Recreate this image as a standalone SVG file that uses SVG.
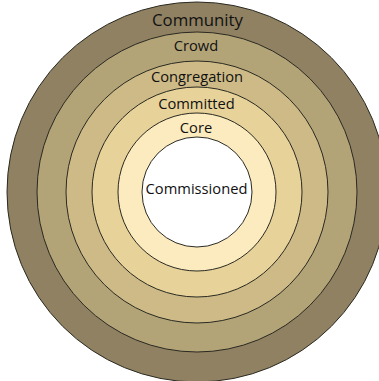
<svg xmlns="http://www.w3.org/2000/svg" width="379" height="381" viewBox="0 0 379 381">
<style>
.ring{stroke:#2a2a22;stroke-width:1}
.lbl{font-family:"Open Sans","Liberation Sans",sans-serif;font-size:14.7px;fill:#111;text-anchor:middle}
.big{font-size:16.8px}
</style>
<rect width="379" height="381" fill="#ffffff"/>
<g id="community"><circle class="ring" cx="197" cy="192" r="190" fill="#8f8161"/><text class="lbl big" x="197.5" y="26">Community</text></g>
<g id="crowd"><circle class="ring" cx="197" cy="192" r="160" fill="#b3a478"/><text class="lbl" x="196" y="51">Crowd</text></g>
<g id="congregation"><circle class="ring" cx="197" cy="192" r="131" fill="#cdba87"/><text class="lbl" x="197" y="82">Congregation</text></g>
<g id="committed"><circle class="ring" cx="197" cy="192" r="105" fill="#e7d39a"/><text class="lbl" x="196.5" y="109">Committed</text></g>
<g id="core"><circle class="ring" cx="197" cy="192" r="79" fill="#fdebc0"/><text class="lbl" x="196" y="133">Core</text></g>
<g id="commissioned"><circle class="ring" cx="197" cy="192" r="55" fill="#ffffff"/><text class="lbl" x="196.5" y="194">Commissioned</text></g>
<g id="connectors"/>
</svg>
